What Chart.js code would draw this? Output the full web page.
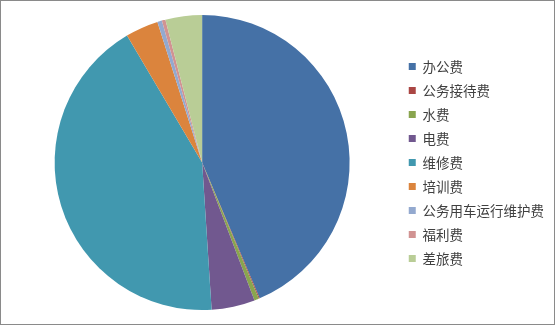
<!DOCTYPE html>
<html>
<head>
<meta charset="utf-8">
<script src="https://cdn.jsdelivr.net/npm/chart.js@4"></script>
<style>
  html, body { margin: 0; padding: 0; background: #fff; }
  #box { width: 555px; height: 325px; box-sizing: border-box; border: 1px solid #8a8a8a; position: relative; }
  #box canvas { position: absolute; left: 0; top: 0; }
</style>
</head>
<body>
<div id="box"><canvas id="pie" width="553" height="323"></canvas></div>
<script>
// categories and their shares (%)
const categories = ['办公费', '公务接待费', '水费', '电费', '维修费', '培训费', '公务用车运行维护费', '福利费', '差旅费'];
const shares = [43.6, 0.1, 0.5, 4.75, 42.5, 3.6, 0.5, 0.4, 4.0];
const colors = ['#4571A6', '#AA4643', '#89A54E', '#71588F', '#4198AF', '#DB843D', '#93A9CF', '#D19392', '#B9CD96'];

new Chart(document.getElementById('pie'), {
  type: 'pie',
  data: {
    labels: categories,
    datasets: [{
      data: shares,
      backgroundColor: colors,
      borderWidth: 0
    }]
  },
  options: {
    responsive: false,
    animation: false,
    layout: { padding: { top: 14, bottom: 14, left: 5, right: 0 } },
    plugins: {
      tooltip: { enabled: false },
      legend: {
        position: 'right',
        align: 'center',
        labels: {
          boxWidth: 7,
          boxHeight: 7,
          padding: 10.5,
          color: '#404040',
          font: { family: '"Noto Sans CJK SC", "Noto Sans", sans-serif', size: 13.5 }
        }
      }
    }
  }
});
</script>
</body>
</html>
